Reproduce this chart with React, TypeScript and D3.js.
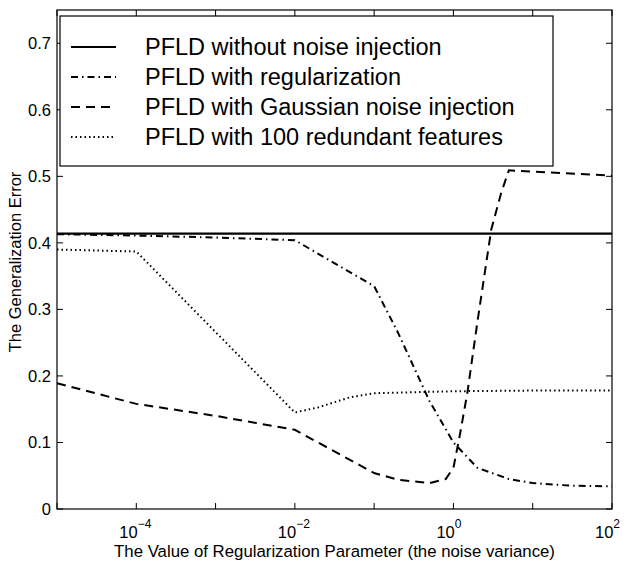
import React from "react";
import * as d3 from "d3";

const W = 626;
const H = 565;

const xSolid = [1e-5, 1e2];
const ySolid = [0.414, 0.414];

const xReg = [1e-5, 1e-4, 1e-3, 1e-2, 1e-1, 0.2, 0.5, 1, 2, 5, 10, 30, 100];
const yReg = [0.413, 0.411, 0.408, 0.404, 0.335, 0.265, 0.162, 0.1, 0.062, 0.045, 0.039, 0.035, 0.034];

const xGauss = [1e-5, 1e-4, 1e-3, 1e-2, 1e-1, 0.2, 0.5, 0.8, 1, 1.2, 1.5, 2, 3, 4, 5, 10, 100];
const yGauss = [0.189, 0.158, 0.14, 0.119, 0.054, 0.044, 0.039, 0.045, 0.062, 0.11, 0.175, 0.28, 0.42, 0.475, 0.509, 0.507, 0.501];

const xRed = [1e-5, 1e-4, 1e-2, 2e-2, 5e-2, 1e-1, 1, 10, 100];
const yRed = [0.39, 0.387, 0.145, 0.153, 0.168, 0.174, 0.177, 0.178, 0.178];

const xTicks = [1e-5, 1e-4, 1e-3, 1e-2, 1e-1, 1, 10, 100];
const xTickLabels = [
  { v: 1e-4, e: "\u22124" },
  { v: 1e-2, e: "\u22122" },
  { v: 1, e: "0" },
  { v: 100, e: "2" },
];
const yTicks = [0, 0.1, 0.2, 0.3, 0.4, 0.5, 0.6, 0.7];

const legendLabels = [
  "PFLD without noise injection",
  "PFLD with regularization",
  "PFLD with Gaussian noise injection",
  "PFLD with 100 redundant features",
];
const dashes = [undefined, "7,4,1.5,4", "9,6", "1.5,3"];

const FONT = "'Liberation Sans', Arial, Helvetica, sans-serif";

export default function App() {
  const left = 57, right = 612, top = 10, bottom = 509;
  const x = d3.scaleLog().domain([1e-5, 1e2]).range([left, right]);
  const y = d3.scaleLinear().domain([0, 0.75]).range([bottom, top]);
  const line = d3
    .line<[number, number]>()
    .x((d) => x(d[0]))
    .y((d) => y(d[1]));
  const series = [
    { xs: xSolid, ys: ySolid },
    { xs: xReg, ys: yReg },
    { xs: xGauss, ys: yGauss },
    { xs: xRed, ys: yRed },
  ];
  const lg = { x0: 60, y0: 16, x1: 553, y1: 166 };
  const rowY = [47, 77, 107, 137];
  return (
    <svg
      width={W}
      height={H}
      style={{ position: "absolute", left: 0, top: 0, background: "#fff" }}
      fontFamily={FONT}
    >
      <rect x={0} y={0} width={W} height={H} fill="#fff" />
      {series.map((s, i) => (
        <path
          key={i}
          d={line(s.xs.map((v, j) => [v, s.ys[j]]) as [number, number][]) || ""}
          fill="none"
          stroke="#000"
          strokeWidth={i === 0 ? 2.2 : 2}
          strokeDasharray={dashes[i]}
        />
      ))}
      <rect x={left} y={top} width={right - left} height={bottom - top} fill="none" stroke="#000" strokeWidth={1.2} />
      {xTicks.map((t, i) => (
        <g key={"xt" + i}>
          <line x1={x(t)} x2={x(t)} y1={bottom} y2={bottom - 6} stroke="#000" strokeWidth={1} />
          <line x1={x(t)} x2={x(t)} y1={top} y2={top + 6} stroke="#000" strokeWidth={1} />
        </g>
      ))}
      {yTicks.map((t, i) => (
        <g key={"yt" + i}>
          <line x1={left} x2={left + 6} y1={y(t)} y2={y(t)} stroke="#000" strokeWidth={1} />
          <line x1={right} x2={right - 6} y1={y(t)} y2={y(t)} stroke="#000" strokeWidth={1} />
          <text x={51} y={y(t) + 6} textAnchor="end" fontSize={16.5}>
            {d3.format("")(t)}
          </text>
        </g>
      ))}
      {xTickLabels.map((t, i) => (
        <text key={"xl" + i} x={x(t.v) - 17} y={538} fontSize={16.5}>
          10
          <tspan dy={-10} fontSize={12}>
            {t.e}
          </tspan>
        </text>
      ))}
      <text x={(left + right) / 2} y={557} textAnchor="middle" fontSize={16.8}>
        The Value of Regularization Parameter (the noise variance)
      </text>
      <text
        transform={`translate(21,262) rotate(-90)`}
        textAnchor="middle"
        fontSize={16.5}
      >
        The Generalization Error
      </text>
      <rect x={lg.x0} y={lg.y0} width={lg.x1 - lg.x0} height={lg.y1 - lg.y0} fill="#fff" stroke="#000" strokeWidth={1.2} />
      {legendLabels.map((l, i) => (
        <g key={"lg" + i}>
          <line
            x1={71}
            x2={116}
            y1={rowY[i]}
            y2={rowY[i]}
            stroke="#000"
            strokeWidth={i === 0 ? 2.2 : 2}
            strokeDasharray={dashes[i]}
          />
          <text x={145} y={rowY[i] + 8} fontSize={23.5}>
            {l}
          </text>
        </g>
      ))}
    </svg>
  );
}
